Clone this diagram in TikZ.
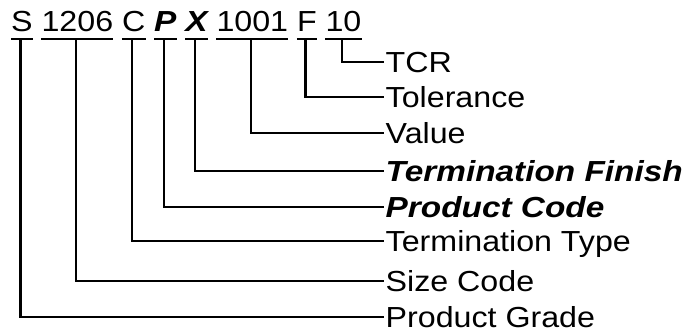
\documentclass[tikz,border=0pt]{standalone}
\usepackage{fontspec}
\setmainfont{Liberation Sans}[
	FakeStretch=1.11,
	BoldItalicFeatures={FakeStretch=1.15}
]
\usetikzlibrary{positioning}

\begin{document}
\begin{tikzpicture}[
	x=1bp,
	y=-1bp,
	font=\fontsize{29bp}{34bp}\selectfont,
	node distance=8.5bp,
	code/.style={
		inner sep=0pt,
		text height=20.8bp,
		text depth=0pt
	},
	hot/.style={
		code,
		font=\fontsize{29bp}{34bp}\selectfont\bfseries\itshape
	},
	lbl/.style={
		anchor=west,
		inner sep=1.5bp,
		text height=20.8bp,
		text depth=0pt
	},
	hotlbl/.style={
		lbl,
		font=\fontsize{29bp}{34bp}\selectfont\bfseries\itshape
	},
	link/.style={
		line width=2.3bp
	}
	]
	\useasboundingbox (0,0) rectangle (685,332);

	% part number, one node per field
	\node[code, anchor=south west] (grade) at (11,32) {S};
	\node[code, right=of grade] (size) {1206};
	\node[code, right=of size] (ctype) {C};
	\node[hot, right=of ctype] (prod) {P};
	\node[hot, right=of prod] (finish) {X};
	\node[code, right=of finish] (value) {1001};
	\node[code, right=of value] (tol) {F};
	\node[code, right=of tol] (tcr) {10};

	% field names
	\node[lbl] (tcr-l) at (384,62) {TCR};
	\node[lbl] (tol-l) at (384,97) {Tolerance};
	\node[lbl] (value-l) at (384,133) {Value};
	\node[hotlbl] (finish-l) at (384,171) {Termination Finish};
	\node[hotlbl] (prod-l) at (384,207) {Product Code};
	\node[lbl] (ctype-l) at (384,241) {Termination Type};
	\node[lbl] (size-l) at (384,281) {Size Code};
	\node[lbl] (grade-l) at (384,317) {Product Grade};

	% underline each field and run it out to its name
	\foreach \n in {grade,size,ctype,prod,finish,value,tol,tcr} {
		\draw[link] ([yshift=-7bp]\n.south west) -- ([yshift=-7bp]\n.south east);
		\draw[link] ([xshift=-1.5bp,yshift=-7bp]\n.south) |- (\n-l.west);
	}
\end{tikzpicture}
\end{document}
